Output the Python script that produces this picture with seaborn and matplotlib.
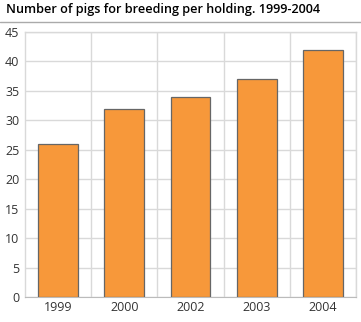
import matplotlib
matplotlib.use("Agg")
import matplotlib.pyplot as plt
import seaborn as sns
import pandas as pd
import numpy as np

years = ["1999", "2000", "2002", "2003", "2004"]
values = [26, 32, 34, 37, 42]
yticks = [0, 5, 10, 15, 20, 25, 30, 35, 40, 45]

sns.set_style("white")
plt.rcParams['font.family'] = ['Open Sans', 'DejaVu Sans']

df = pd.DataFrame({"year": years, "value": values})

fig = plt.figure(figsize=(3.61, 3.22), dpi=100)
ax = fig.add_axes([25/361, 1-297/322, (356-25)/361, (297-32)/322])

sns.barplot(data=df, x="year", y="value", color="#F7983A", width=0.6,
            edgecolor="#666666", linewidth=0.9, saturation=1, ax=ax, zorder=3)

ax.set_ylim(0, 45)
ax.set_xlim(-0.5, len(years) - 0.5)
ax.set_yticks(yticks)
ax.set_xlabel("")
ax.set_ylabel("")
ax.yaxis.grid(True, color="#d9d9d9", linewidth=1, zorder=0)
ax.set_xticks(np.arange(len(years)) + 0.5, minor=True)
ax.xaxis.grid(True, which="minor", color="#d9d9d9", linewidth=1, zorder=0)
ax.set_axisbelow(True)
for s in ["top", "right", "left"]:
    ax.spines[s].set_color("#d9d9d9")
    ax.spines[s].set_linewidth(1)
ax.spines["bottom"].set_color("#bbbbbb")
ax.tick_params(axis="both", which="both", length=0, labelsize=9, colors="#333333", pad=4)
ax.tick_params(axis="x", pad=3)

fig.text(6/361, 1-10/322, "Number of pigs for breeding per holding. 1999-2004",
         fontsize=9.1, fontweight="semibold", va="center", ha="left", color="#000000")
fig.add_artist(plt.Line2D([0, 1], [1-22/322, 1-22/322], color="#aaaaaa", linewidth=1))

fig.savefig("out.png", dpi=100)
